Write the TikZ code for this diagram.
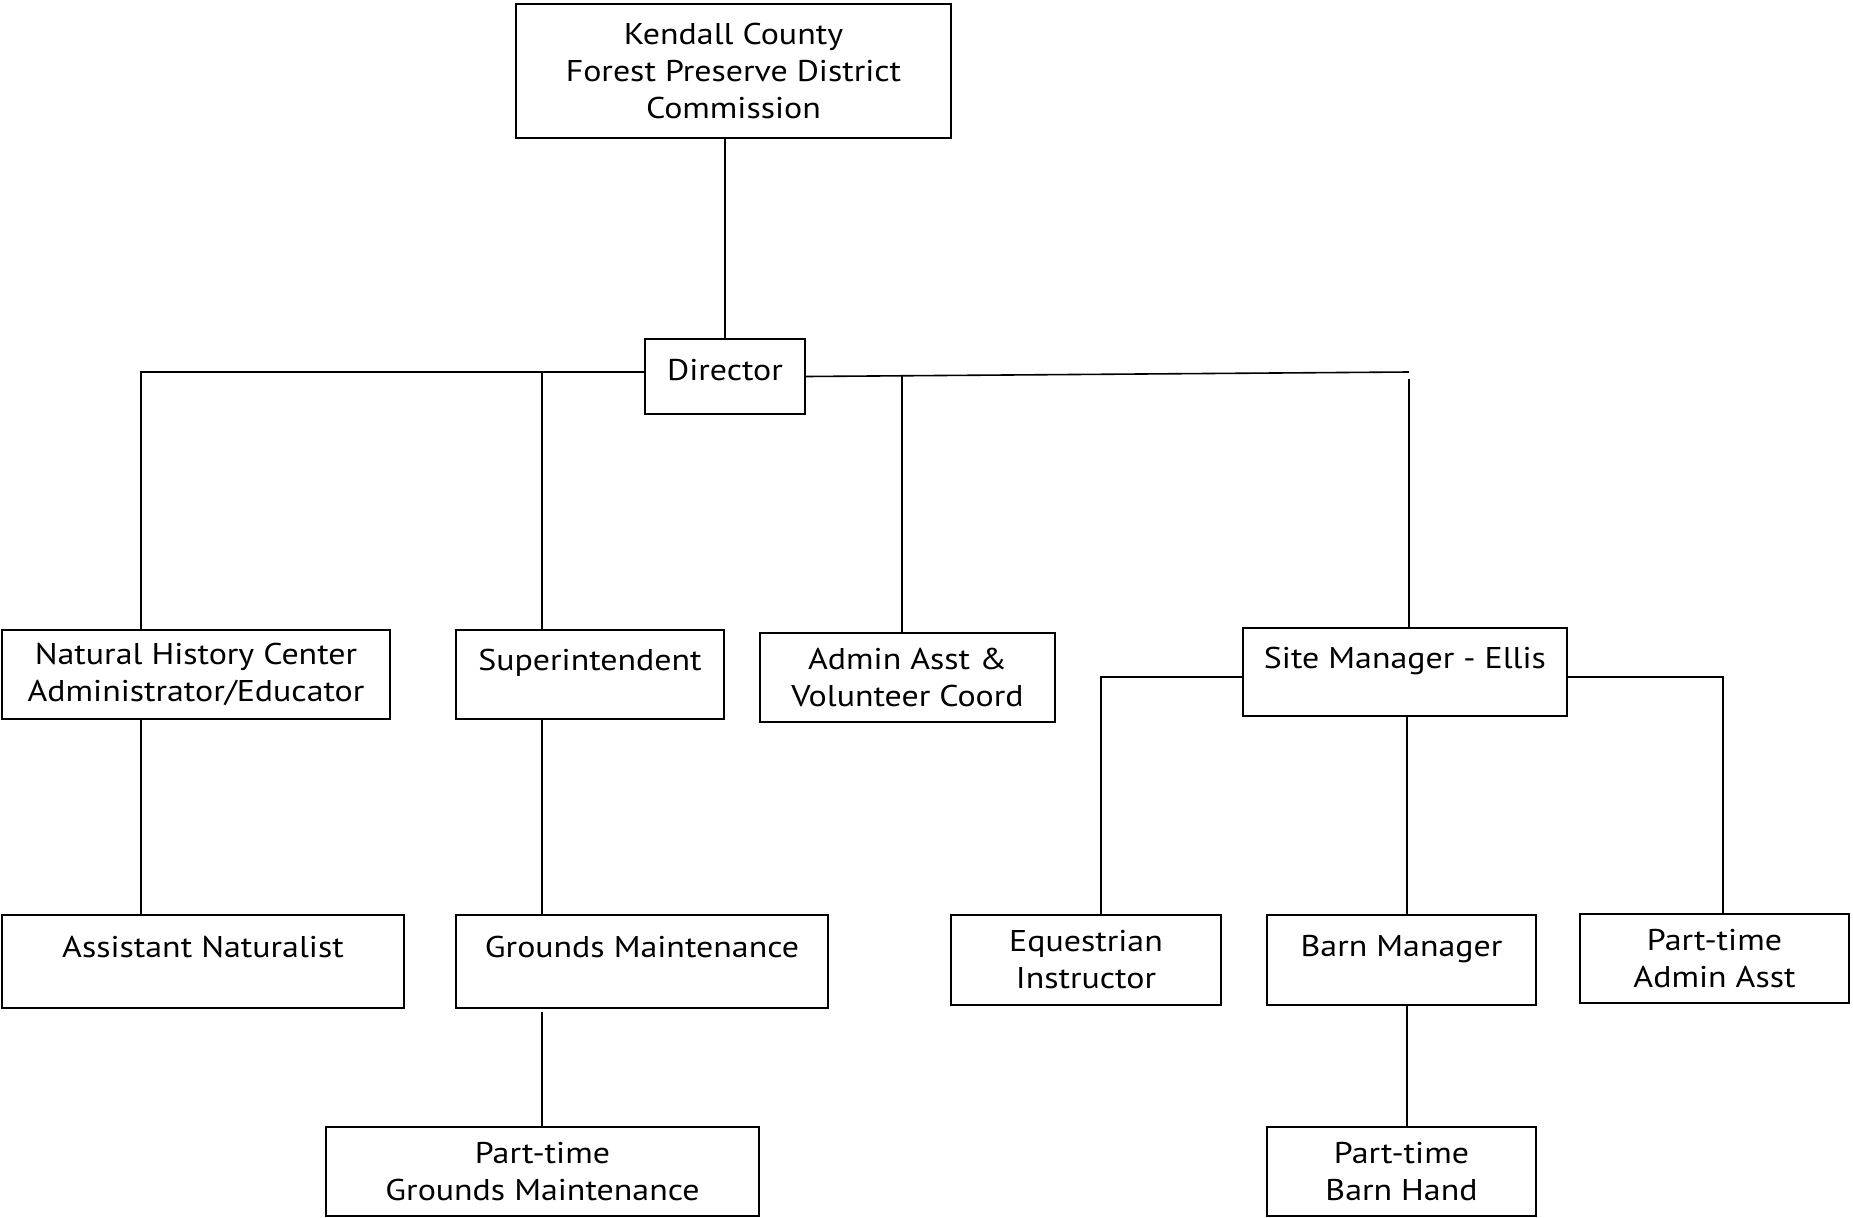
\documentclass[tikz,border=0pt]{standalone}
\usepackage{fontspec}
\setmainfont[FakeStretch=1.13]{PT Sans}
\usetikzlibrary{positioning}

\begin{document}
\begin{tikzpicture}[x=1pt, y=-1pt,
        box/.style={draw, line width=1.8pt, inner sep=0pt, align=center,
            font=\fontsize{30}{37}\selectfont},
        topline/.style={text height=22pt, text depth=30pt},
        every path/.style={line width=1.6pt}]
        \useasboundingbox (0,0) rectangle (1853,1218);

        % Node definitions
        \node (comm) [box, minimum width=435, minimum height=134] at (733.5,71) {
            Kendall County\\ Forest Preserve District\\ Commission};
        \node (director) [box, text height=22pt, text depth=14pt,
            minimum width=160, minimum height=75] at (725,376.5) {Director};

        \node (nhc) [box, minimum width=388, minimum height=89] at (196,674.5) {
            Natural History Center\\ Administrator/Educator};
        \node (supt) [box, topline, minimum width=268, minimum height=89] at (590,674.5) {
            Superintendent};
        \node (admin) [box, minimum width=295, minimum height=89] at (907.5,677.5) {
            Admin Asst \&\\ Volunteer Coord};
        \node (site) [box, topline, minimum width=324, minimum height=88] at (1405,672) {
            Site Manager - Ellis};

        \node (asstnat) [box, topline, minimum width=402, minimum height=93] at (203,961.5) {
            Assistant Naturalist};
        \node (grounds) [box, topline, minimum width=372, minimum height=93] at (642,961.5) {
            Grounds Maintenance};
        \node (equest) [box, minimum width=270, minimum height=90] at (1086,960) {
            Equestrian\\ Instructor};
        \node (barnmgr) [box, topline, minimum width=269, minimum height=90] at (1401.5,960) {
            Barn Manager};
        \node (ptadmin) [box, minimum width=269, minimum height=89] at (1714.5,958.5) {
            Part-time\\ Admin Asst};

        \node (ptgrounds) [box, minimum width=433, minimum height=89] at (542.5,1171.5) {
            Part-time\\ Grounds Maintenance};
        \node (barnhand) [box, minimum width=269, minimum height=89] at (1401.5,1171.5) {
            Part-time\\ Barn Hand};

        % Junctions
        \coordinate (lj) at (141,372);
        \coordinate (sj) at (542,372);
        \coordinate (aj) at (902,375.5);
        \coordinate (rj) at (1409,372);
        \coordinate (rv) at (1409,379);
        \coordinate (sl) at (1101,677);
        \coordinate (sr) at (1723,677);
        \coordinate (bj) at (1407,716);

        % Connectors
        \draw (director.north) -- (director.north |- comm.south);
        \draw (director.west |- lj) -- (lj) -- (lj |- nhc.north);
        \draw (sj) -- (sj |- supt.north);
        \draw (director.east) -- (rj);
        \draw (aj) -- (aj |- admin.north);
        \draw (rv) -- (rv |- site.north);

        \draw (lj |- nhc.south) -- (lj |- asstnat.north);
        \draw (sj |- supt.south) -- (sj |- grounds.north);
        \draw (sj |- ptgrounds.north) -- ++(0,-114);

        \draw (site.west |- sl) -- (sl) -- (sl |- equest.north);
        \draw (site.east |- sr) -- (sr) -- (sr |- ptadmin.north);
        \draw (bj |- site.south) -- (bj |- barnmgr.north);
        \draw (bj |- barnmgr.south) -- (bj |- barnhand.north);
    \end{tikzpicture}
\end{document}
